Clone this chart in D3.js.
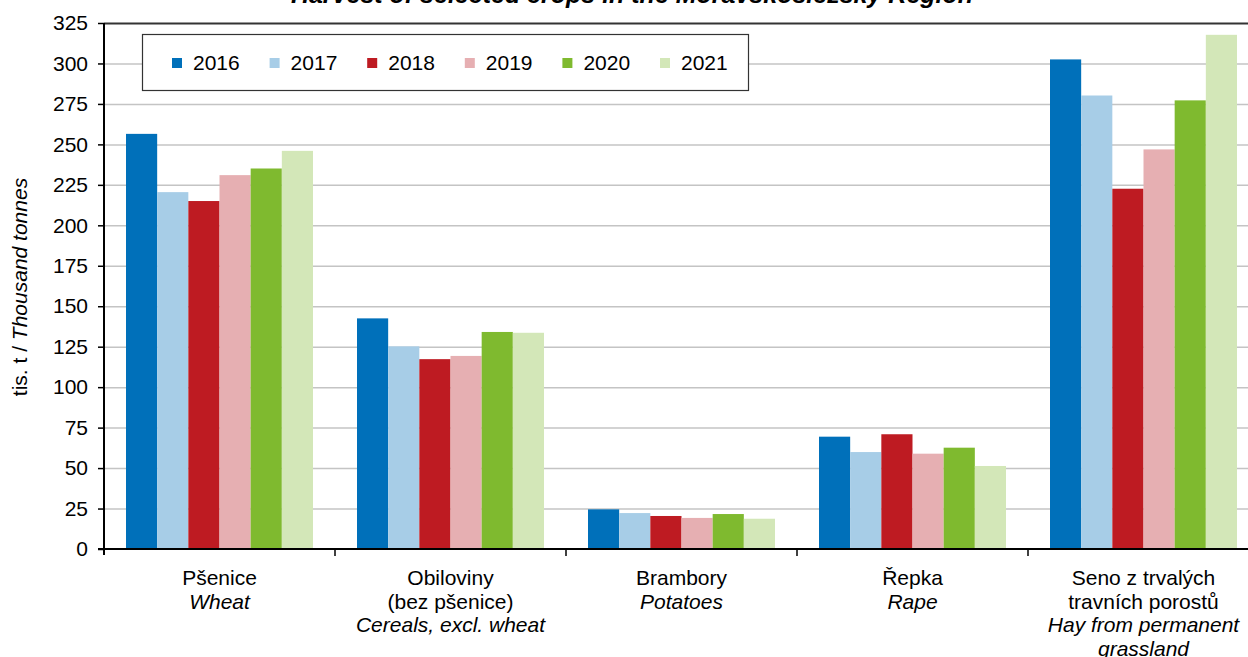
<!DOCTYPE html>
<html>
<head>
<meta charset="utf-8">
<script src="https://cdn.jsdelivr.net/npm/d3@7"></script>
<style>
  body { margin: 0; background: #fff; }
  text { font-family: Arial, "Liberation Sans", sans-serif; fill: #000; }
</style>
</head>
<body>
<div id="chart"></div>
<script>
// crops, each with a Czech and English label
const categories = ["Pšenice", "Obiloviny", "Brambory", "Řepka", "Seno"];
const labelsCz = [["Pšenice"], ["Obiloviny", "(bez pšenice)"], ["Brambory"], ["Řepka"], ["Seno z trvalých", "travních porostů"]];
const labelsEn = [["Wheat"], ["Cereals, excl. wheat"], ["Potatoes"], ["Rape"], ["Hay from permanent", "grassland"]];

const years = ["2016", "2017", "2018", "2019", "2020", "2021"];
const colors = ["#0070ba", "#a7cde7", "#be1b22", "#e6afb2", "#7fba2f", "#d3e7b8"];

// thousand tonnes, one value per crop
const v2016 = [256.5, 142.5, 24.5, 69.4, 302.5];
const v2017 = [220.5, 125.2, 22.2, 59.9, 280.2];
const v2018 = [215.0, 117.3, 20.4, 70.9, 222.6];
const v2019 = [231.0, 119.3, 19.2, 58.9, 246.9];
const v2020 = [235.1, 134.1, 21.6, 62.6, 277.2];
const v2021 = [246.0, 133.6, 18.7, 51.3, 317.7];
const series = [v2016, v2017, v2018, v2019, v2020, v2021];

const yTicks = [0, 25, 50, 75, 100, 125, 150, 175, 200, 225, 250, 275, 300, 325];

;(function () {
    const W = 1248, H = 657;
    const plot = { left: 104, right: 1259, top: 23, bottom: 549 };
    const fs = "21px";

    const svg = d3.select("#chart").append("svg")
        .attr("width", W)
        .attr("height", H);

    const x0 = d3.scaleBand().domain(categories).range([plot.left, plot.right]);
    const x1 = d3.scaleBand().domain(years).range([22, x0.bandwidth() - 22]);
    const y = d3.scaleLinear().domain([0, 325]).range([plot.bottom, plot.top]);

    // title (mostly off the top edge, as in the original)
    svg.append("text")
        .attr("x", 632)
        .attr("y", 3)
        .attr("text-anchor", "middle")
        .style("font-size", "25px")
        .style("font-weight", "bold")
        .style("font-style", "italic")
        .text("Harvest of selected crops in the Moravskoslezský Region");

    // gridlines
    svg.append("g")
        .selectAll("line")
        .data(yTicks.filter(d => d > 0))
        .join("line")
        .attr("x1", plot.left)
        .attr("x2", W)
        .attr("y1", d => y(d) + 0.5)
        .attr("y2", d => y(d) + 0.5)
        .attr("stroke", d => d === 325 ? "#333" : "#c4c4c4")
        .attr("stroke-width", d => d === 325 ? 2 : 1.5);

    // bars
    const groups = svg.append("g")
        .selectAll("g")
        .data(categories)
        .join("g")
        .attr("transform", d => "translate(" + x0(d) + ",0)");

    groups.selectAll("rect")
        .data((d, i) => years.map((yr, j) => ({ year: yr, value: series[j][i], color: colors[j] })))
        .join("rect")
        .attr("x", d => x1(d.year))
        .attr("width", x1.bandwidth())
        .attr("y", d => y(d.value))
        .attr("height", d => plot.bottom - y(d.value))
        .attr("fill", d => d.color);

    // y axis
    const yAxis = d3.axisLeft(y).tickValues(yTicks).tickSize(6).tickPadding(10);
    const gy = svg.append("g")
        .attr("transform", "translate(" + plot.left + ",0)")
        .call(yAxis);
    gy.select(".domain").attr("stroke", "#000").attr("stroke-width", 2)
        .attr("d", "M0," + plot.top + "V" + (plot.bottom + 6));
    gy.selectAll(".tick line").attr("stroke", "#000").attr("stroke-width", 1.5);
    gy.selectAll(".tick text")
        .style("font-size", fs)
        .style("font-family", "Arial, 'Liberation Sans', sans-serif");

    // x axis line + boundary ticks
    svg.append("line")
        .attr("x1", plot.left - 6).attr("x2", W)
        .attr("y1", plot.bottom).attr("y2", plot.bottom)
        .attr("stroke", "#000").attr("stroke-width", 2);

    svg.append("g")
        .selectAll("line")
        .data(categories.slice(1))
        .join("line")
        .attr("x1", d => x0(d))
        .attr("x2", d => x0(d))
        .attr("y1", plot.bottom)
        .attr("y2", plot.bottom + 7)
        .attr("stroke", "#000")
        .attr("stroke-width", 1.5);

    // category labels
    const lineH = 23.7;
    categories.forEach((c, i) => {
        const cx = x0(c) + x0.bandwidth() / 2;
        const lines = labelsCz[i].map(t => ({ t, it: false }))
            .concat(labelsEn[i].map(t => ({ t, it: true })));
        svg.append("g").selectAll("text")
            .data(lines)
            .join("text")
            .attr("x", cx)
            .attr("y", (d, k) => 585 + k * lineH)
            .attr("text-anchor", "middle")
            .style("font-size", fs)
            .style("font-style", d => d.it ? "italic" : "normal")
            .text(d => d.t);
    });

    // y axis title
    const yt = svg.append("text")
        .attr("transform", "translate(27,287) rotate(-90)")
        .attr("text-anchor", "middle")
        .style("font-size", fs);
    yt.append("tspan").text("tis. t / ");
    yt.append("tspan").style("font-style", "italic").text("Thousand tonnes");

    // legend
    const legend = svg.append("g");
    legend.append("rect")
        .attr("x", 142.5).attr("y", 34.5)
        .attr("width", 606).attr("height", 56)
        .attr("fill", "#fff")
        .attr("stroke", "#333")
        .attr("stroke-width", 1.2);

    const items = legend.selectAll("g")
        .data(years)
        .join("g")
        .attr("transform", (d, i) => "translate(" + (172 + i * 97.6) + ",58)");
    items.append("rect")
        .attr("width", 10).attr("height", 10)
        .attr("fill", (d, i) => colors[i]);
    items.append("text")
        .attr("x", 21).attr("y", 12)
        .style("font-size", fs)
        .text(d => d);
})()
</script>
</body>
</html>
